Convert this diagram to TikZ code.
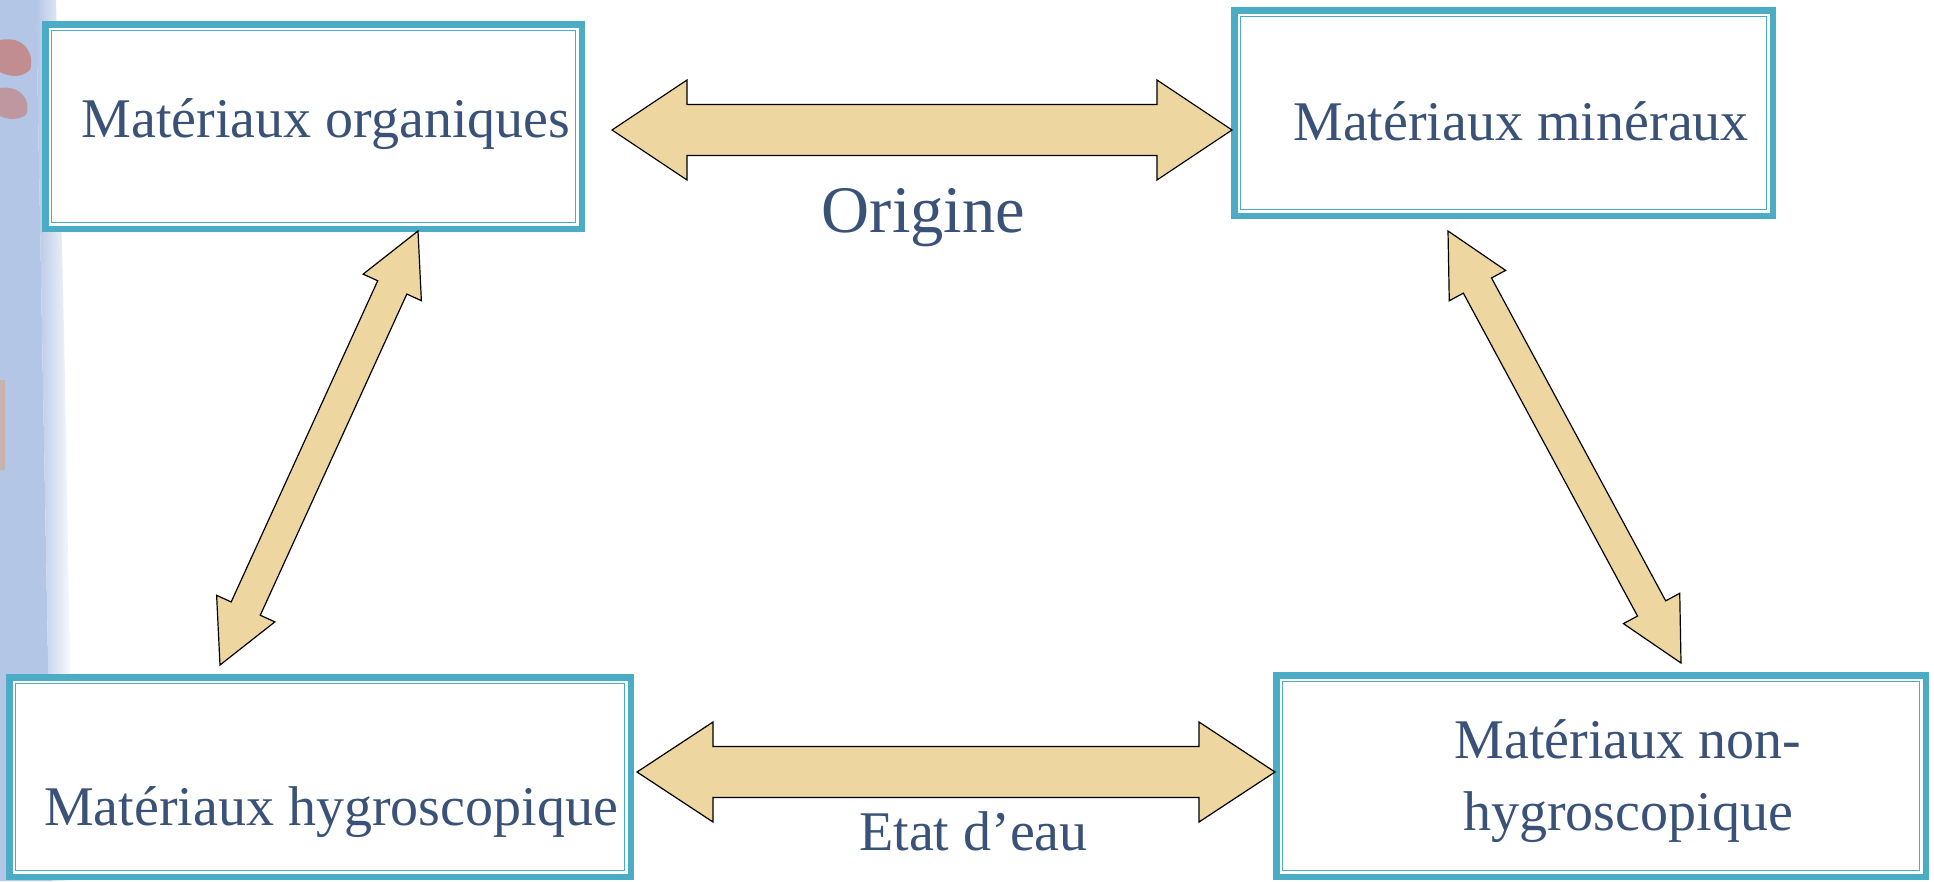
\documentclass[tikz,border=0pt]{standalone}
\usepackage{fontspec}
\setmainfont{Liberation Serif}
\usetikzlibrary{calc}

\definecolor{boxblue}{HTML}{4BACC6}
\definecolor{inkblue}{HTML}{3A5278}
\definecolor{papyrus}{RGB}{238,214,160}
\definecolor{stripblue}{RGB}{180,198,230}
\definecolor{stripred}{RGB}{205,95,75}

\tikzset{
  matbox/.style={draw=boxblue, line width=6.5pt, fill=white, inner sep=0pt,
                 outer sep=0pt, rectangle},
  innerline/.style={draw=boxblue, line width=1.8pt},
  boxtext/.style={text=inkblue, font=\fontsize{56}{72}\selectfont, inner sep=0pt,
                  align=center},
  bigtext/.style={text=inkblue, font=\fontsize{66.5}{80}\selectfont, inner sep=0pt},
  block arrow/.style={draw=black, line width=1.2pt, fill=papyrus, line join=miter},
}

% double-headed block arrow between two named points:
% #1, #2 tips; #3 head length; #4 head half width; #5 shaft half width
\newcommand\blockarrow[5]{%
  \draw[block arrow]
    (#1)
    -- ($(#1)!#3!(#2)!#4!90:(#2)$)
    -- ($(#1)!#3!(#2)!#5!90:(#2)$)
    -- ($(#2)!#3!(#1)!#5!-90:(#1)$)
    -- ($(#2)!#3!(#1)!#4!-90:(#1)$)
    -- (#2)
    -- ($(#2)!#3!(#1)!#4!90:(#1)$)
    -- ($(#2)!#3!(#1)!#5!90:(#1)$)
    -- ($(#1)!#3!(#2)!#5!-90:(#2)$)
    -- ($(#1)!#3!(#2)!#4!-90:(#2)$)
    -- cycle;}

% inner thin rule of a framed box
\newcommand\innerframe[1]{%
  \draw[innerline] ($(#1.north west)+(6.25,6.25)$) rectangle ($(#1.south east)+(-6.25,-6.25)$);}

\begin{document}
\begin{tikzpicture}[x=1pt, y=-1pt]
  \useasboundingbox (0,0) rectangle (1934,881);
  \fill[white] (0,0) rectangle (1934,881);

  % decorative strip along the left edge
  \fill[stripblue] (0,0) -- (36,0) -- (42,330) -- (48,660) -- (52,881) -- (0,881) -- cycle;
  \shade[left color=stripblue, right color=white]
    (36,0) -- (56,0) -- (64,330) -- (70,660) -- (74,881) -- (52,881) -- (48,660) -- (42,330) -- cycle;
  \fill[stripred, opacity=0.55] (0,40) .. controls (25,35) and (35,55) .. (30,70)
        .. controls (20,80) and (5,75) .. (0,72) -- cycle;
  \fill[stripred, opacity=0.45] (0,88) .. controls (20,85) and (32,100) .. (26,115)
        .. controls (15,122) and (4,118) .. (0,116) -- cycle;
  \fill[orange, opacity=0.25] (0,380) rectangle (5,470);

  % framed boxes
  \node[matbox, minimum width=536.5pt, minimum height=204.5pt] (org) at (313.5,126.5) {};
  \node[matbox, minimum width=538.5pt, minimum height=205.5pt] (min) at (1503.5,113) {};
  \node[matbox, minimum width=621.5pt, minimum height=199.5pt] (hyg) at (320,777) {};
  \node[matbox, minimum width=649.5pt, minimum height=201.5pt] (nonhyg) at (1601,776) {};
  \innerframe{org}
  \innerframe{min}
  \innerframe{hyg}
  \innerframe{nonhyg}

  % box labels
  \node[boxtext, anchor=base] (torg) at (326,137) {Matériaux organiques};
  \node[boxtext, anchor=base] (tmin) at (1521,140) {Matériaux minéraux};
  \node[boxtext, anchor=base] (thyg) at (331,825) {Matériaux hygroscopique};
  \node[boxtext, anchor=base] (tnon1) at (1628,758) {Matériaux non-};
  \node[boxtext, anchor=base] (tnon2) at (1628,830) {hygroscopique};

  % arrow tips
  \coordinate (topL) at (612,130);
  \coordinate (topR) at (1232,130);
  \coordinate (botL) at (637,772);
  \coordinate (botR) at (1275,772);
  \coordinate (leftT) at (418,231);
  \coordinate (leftB) at (220,665);
  \coordinate (rightT) at (1448,231);
  \coordinate (rightB) at (1681,663);

  \blockarrow{topL}{topR}{75pt}{50pt}{25.5pt}
  \blockarrow{botL}{botR}{76pt}{50pt}{25.5pt}
  \blockarrow{leftB}{leftT}{62pt}{32pt}{16pt}
  \blockarrow{rightT}{rightB}{62pt}{32pt}{16pt}

  % relation labels
  \node[bigtext, anchor=base] (origine) at (923.5,232) {Origine};
  \node[boxtext, anchor=base] (etat) at (973.5,850) {Etat d’eau};
\end{tikzpicture}
\end{document}
